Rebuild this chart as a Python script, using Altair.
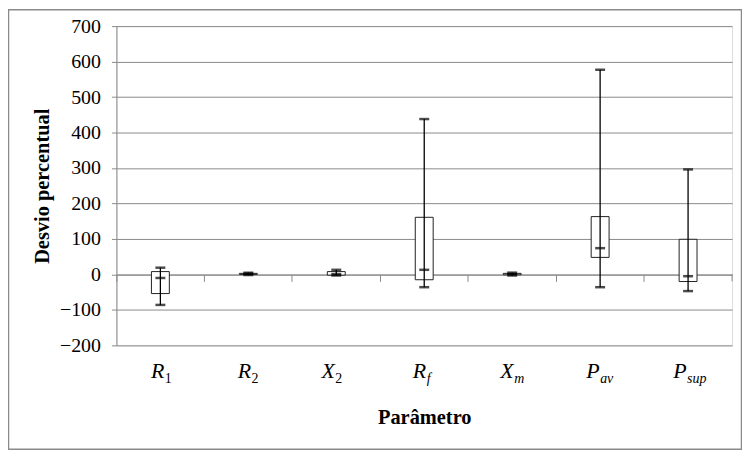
import altair as alt
import pandas as pd

cats = ["R1", "R2", "X2", "Rf", "Xm", "Pav", "Psup"]
main_lbl = ["R", "R", "X", "R", "X", "P", "P"]
sub_lbl = ["1", "2", "2", "f", "m", "av", "sup"]
mins = [-86, -2, -3, -36, -3, -36, -47]
q1 = [-54, 0, -2, -15, -1, 48, -20]
med = [-10, 2, 1, 13, 1, 74, -5]
q3 = [8, 3, 8, 161, 3, 163, 99]
maxs = [19, 5, 13, 438, 5, 577, 296]
label_dx = [4, 2.7, -1.5, 2, 1.5, -0.5, -1.5]

df = pd.DataFrame({"cat": cats, "main": main_lbl, "sub": sub_lbl,
                   "min": mins, "q1": q1, "med": med, "q3": q3, "max": maxs})

W, H = 619, 321
GRID = "#8a8a8a"
SERIF = "Liberation Serif, Times New Roman, DejaVu Serif, serif"
ydom = [-200, 700]
zero_off = -(H - (ydom[1] - 0) / (ydom[1] - ydom[0]) * H)

xaxis = alt.Axis(labels=False, title="Parâmetro", offset=zero_off, bandPosition=0,
                 tickSize=7, grid=False, titleX=W / 2, titleY=150,
                 titleAlign="center", titleBaseline="alphabetic")

yaxis = alt.Axis(values=list(range(-200, 701, 100)), title="Desvio percentual",
                 grid=True, titleX=-74, titleY=H / 2, titleAngle=-90,
                 titleAlign="center", titleBaseline="middle")

xscale = alt.Scale(paddingInner=0, paddingOuter=0)
yscale = alt.Scale(domain=ydom, nice=False, zero=False)


def xenc():
    return alt.X("cat:N", sort=cats, scale=xscale, axis=xaxis)


def yenc(f):
    return alt.Y(f"{f}:Q", scale=yscale, axis=yaxis)


base = alt.Chart(df)

boxes = base.mark_bar(size=18, fill="white", stroke="#222", strokeWidth=1).encode(
    x=xenc(), y=yenc("q1"), y2="q3:Q")

whisk = base.mark_rule(color="#000", strokeWidth=1.3).encode(
    x=xenc(), y=yenc("min"), y2="max:Q")

caps = []
for f in ["min", "max", "med"]:
    caps.append(base.mark_tick(size=10, thickness=2.5, color="#000").encode(
        x=xenc(), y=yenc(f)))

end_tick = alt.Chart(pd.DataFrame({"a": [0]})).mark_rule(color=GRID).encode(
    x=alt.value(W), y=alt.datum(0, scale=yscale, axis=yaxis), y2=alt.datum(-19.6))

labels = []
for c, s, d in zip(cats, sub_lbl, label_dx):
    sub = base.transform_filter(alt.datum.cat == c)
    labels.append(sub.mark_text(align="right", dx=d, font=SERIF, fontStyle="italic",
                                fontSize=22, baseline="alphabetic", color="#000").encode(
        x=xenc(), y=alt.value(354.3), text="main:N"))
    labels.append(sub.mark_text(align="left", dx=d + 0.5, font=SERIF,
                                fontStyle="normal" if s.isdigit() else "italic",
                                fontSize=14, baseline="alphabetic", color="#000").encode(
        x=xenc(), y=alt.value(359.3), text="sub:N"))

border = alt.Chart(pd.DataFrame({"a": [0]})).mark_rect(
    fill=None, stroke=GRID, strokeWidth=1.5).encode(
    x=alt.value(-108.5), x2=alt.value(628.5), y=alt.value(-16.5), y2=alt.value(425.5))

chart = alt.layer(boxes, whisk, *caps, end_tick, *labels, border).properties(
    width=W, height=H,
    autosize=alt.AutoSizeParams(type="none"),
    padding={"left": 109, "top": 17, "right": 10, "bottom": 105},
).configure_view(stroke=None).configure(background="white").configure_axis(
    gridColor=GRID, domainColor=GRID, tickColor=GRID,
    labelFont=SERIF, labelFontSize=20, labelColor="#000", labelPadding=11,
    labelOverlap=False, labelFlush=False,
    titleFont=SERIF, titleFontSize=20.5, titleFontWeight="bold", titleColor="#000",
)

chart.save("out.html", embed_options={"renderer": "svg", "actions": False})
